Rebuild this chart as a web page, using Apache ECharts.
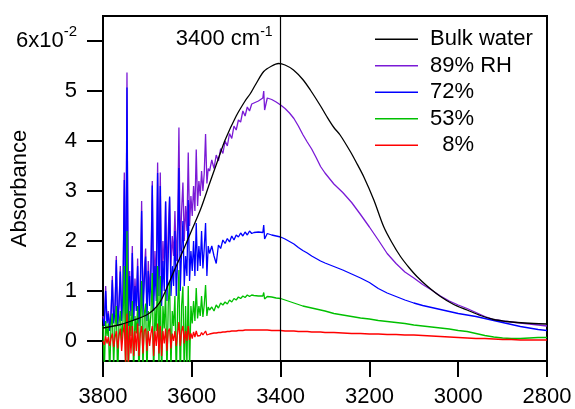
<!DOCTYPE html>
<html><head><meta charset="utf-8">
<script src="https://cdn.jsdelivr.net/npm/echarts@6/dist/echarts.min.js"></script>
<style>html,body{margin:0;padding:0;background:#fff}#c{width:575px;height:409px}</style>
</head><body><div id="c"></div>
<script>
// Absorbance values are in units of 10^-2 (axis shows 6x10^-2 at top)
const xTicks = [3800, 3600, 3400, 3200, 3000, 2800];
const yTicks = [0, 1, 2, 3, 4, 5, 6];
const legendNames = ['Bulk water', '89% RH', '72%', '53%', '  8%'];

// noisy region wavenumbers (cm-1)
const wnA = [3800,3797,3794,3791,3788,3785,3782,3779,3776,3773,
3770,3767,3764,3761,3758,3755,3752,3749,3746,3743,
3740,3737,3734,3731,3728,3725,3722,3719,3716,3713,
3710,3707,3704,3701,3698,3695,3692,3689,3686,3683,
3680,3677,3674,3671,3668,3665,3662,3659,3656,3653,
3650,3647,3644,3641,3638,3635,3632,3629,3626,3623,
3620,3617,3614,3611,3608,3605,3602,3599,3596,3593,
3590,3587,3584,3581,3578,3575,3572,3569,3566,3563,
3560];
// smoother region wavenumbers
const wnB = [3555,3550,3545,3540,3535,3530,3525,3520,3515,3510,3505,3500,3495,3490,3485,3480,3475,3470,3465,
3460,3450,3440,3438,3436,3430,3420,3410,3400,3390,3380,3370,3360,3350,3340,3330,3320,3310,3300,
3280,3260,3240,3220,3200,3180,3160,3140,3120,3100,3080,3060,3040,3020,3000,2980,2960,2940,2920,2900,2880,2860,2840,2820,2800];

const rh89A = [0.5,0.35,1.1,0.4,0.6,0.3,0.55,1.3,0.4,0.65,
1.7,0.35,0.75,1.5,0.45,1.0,3.37,0.25,5.37,0.35,
1.4,0.6,1.9,0.5,1.25,0.7,1.65,0.45,1.05,2.8,
0.7,1.4,1.85,0.65,1.6,0.95,1.55,3.2,0.9,1.8,
1.1,3.57,1.25,3.37,1.1,2.0,1.45,2.79,1.35,2.2,
2.87,1.5,2.1,1.7,2.6,1.6,2.3,4.27,1.8,2.6,
3.17,2.0,2.7,2.2,3.77,2.3,2.9,2.5,3.1,2.6,
3.83,2.7,3.2,2.9,3.4,3.0,3.35,4.14,3.15,3.45,
3.4];
const rh89B = [3.62,3.45,3.72,3.6,3.85,3.75,4.0,3.9,4.15,4.05,4.3,4.22,4.42,4.38,4.6,4.5,4.68,4.6,4.74,
4.76,4.8,4.86,5.0,4.62,4.86,4.83,4.78,4.72,4.65,4.56,4.45,4.3,4.13,3.98,3.84,3.67,3.49,3.36,
3.14,2.97,2.77,2.53,2.28,2.02,1.75,1.55,1.38,1.26,1.13,1.02,0.9,0.8,0.72,0.65,0.57,0.49,0.43,0.4,0.38,0.36,0.34,0.32,0.30];

const rh72A = [0.45,0.3,1.0,0.35,0.55,0.2,0.5,1.22,0.35,0.6,
1.62,0.3,0.7,1.39,0.4,0.9,3.22,0.2,5.07,0.3,
1.3,0.5,1.76,0.4,1.1,0.6,1.5,0.3,0.9,2.6,
0.5,1.2,1.69,0.4,1.4,0.7,1.3,3.11,0.6,1.5,
0.8,3.36,0.9,3.1,0.7,1.6,1.0,2.79,0.8,1.7,
2.89,0.9,1.5,1.1,2.2,0.9,1.6,3.46,1.0,1.8,
2.4,1.1,1.7,1.3,2.82,1.2,1.8,1.4,2.0,1.3,
2.36,1.4,1.9,1.5,2.2,1.45,1.85,2.36,1.3,1.9,
1.75];
const rh72B = [1.9,1.7,1.55,1.92,1.85,2.02,1.95,2.05,1.98,2.1,2.02,2.12,2.08,2.16,2.1,2.18,2.12,2.2,2.15,
2.17,2.18,2.17,2.32,2.04,2.15,2.12,2.1,2.08,2.04,1.99,1.94,1.87,1.81,1.76,1.7,1.65,1.6,1.56,
1.49,1.42,1.34,1.26,1.17,1.05,0.96,0.89,0.82,0.76,0.71,0.67,0.63,0.59,0.55,0.52,0.49,0.45,0.41,0.37,0.33,0.29,0.26,0.23,0.21];

const rh53A = [0.3,-0.6,0.4,0.1,0.35,-0.7,0.3,0.55,-0.5,0.3,
0.7,-0.8,0.35,0.6,0.0,0.4,1.5,-0.8,2.2,-0.9,
0.6,0.1,0.8,-0.7,0.5,0.15,0.7,-0.8,0.4,1.2,
-0.6,0.55,0.75,-0.7,0.6,0.2,0.55,1.36,-0.8,0.65,
0.2,1.5,-0.5,1.3,-0.8,0.7,0.25,1.0,-0.7,0.75,
1.2,-0.6,0.6,0.3,0.9,-0.8,0.65,1.42,-0.9,0.7,
1.09,-0.7,0.7,-0.5,1.1,-0.6,0.7,0.35,0.8,0.4,
1.06,0.45,0.7,0.5,0.9,0.48,0.72,1.12,0.5,0.68,
0.62];
const rh53B = [0.68,0.6,0.72,0.66,0.76,0.72,0.78,0.74,0.82,0.78,0.85,0.82,0.88,0.85,0.9,0.87,0.92,0.89,0.92,
0.91,0.9,0.9,0.97,0.84,0.89,0.88,0.86,0.85,0.82,0.79,0.76,0.73,0.7,0.68,0.66,0.64,0.62,0.6,
0.55,0.52,0.49,0.46,0.44,0.41,0.39,0.37,0.35,0.32,0.3,0.28,0.26,0.24,0.21,0.19,0.15,0.11,0.08,0.06,0.05,0.05,0.06,0.07,0.07];

const rh8A = [0.0,-0.08,0.1,-0.05,0.08,-0.1,0.05,0.15,-0.12,0.06,
0.2,-0.15,0.1,0.25,-0.2,0.15,0.35,-0.45,0.55,-0.5,
0.3,-0.25,0.3,-0.3,0.2,-0.2,0.35,-0.3,0.15,0.3,
-0.25,0.2,0.25,-0.2,0.2,-0.1,0.15,0.3,-0.3,0.2,
-0.1,0.35,-0.25,0.3,-0.3,0.2,-0.05,0.25,-0.2,0.2,
0.25,-0.15,0.15,0.0,0.2,-0.1,0.15,0.38,-0.1,0.2,
0.3,-0.05,0.2,0.0,0.3,0.02,0.15,0.05,0.18,0.08,
0.2,0.1,0.14,0.11,0.17,0.12,0.14,0.2,0.12,0.14,
0.14];
const rh8B = [0.15,0.16,0.16,0.17,0.17,0.18,0.18,0.19,0.19,0.2,0.2,0.2,0.21,0.21,0.21,0.22,0.22,0.22,0.22,
0.22,0.22,0.22,0.23,0.21,0.22,0.21,0.21,0.21,0.2,0.2,0.2,0.19,0.19,0.19,0.18,0.18,0.18,0.17,
0.17,0.16,0.15,0.15,0.14,0.14,0.13,0.13,0.12,0.12,0.11,0.1,0.09,0.08,0.07,0.06,0.05,0.05,0.04,0.03,0.03,0.02,0.02,0.02,0.02];

const wnBulk = [3800,3760,3730,3700,3680,3667,3640,3620,3600,3580,3560,3540,3525,3500,3480,3468,3457,3438,3420,3405,
3390,3371,3350,3333,3310,3296,3280,3266,3243,3230,3213,3190,3168,3150,3130,3110,3093,3070,3040,3010,2980,2950,2920,2890,2867,2830,2800];
const bulk = [0.26,0.33,0.42,0.53,0.68,0.85,1.4,1.8,2.22,2.64,3.15,3.65,4.02,4.5,4.8,4.95,5.12,5.39,5.5,5.55,
5.52,5.42,5.23,5.02,4.7,4.49,4.27,4.12,3.79,3.58,3.29,2.82,2.29,1.98,1.69,1.46,1.29,1.1,0.89,0.73,0.62,0.51,0.43,0.39,0.37,0.35,0.34];

const colors = {bulk:'#000000', rh89:'#7a1ad6', rh72:'#0000ff', rh53:'#00c000', rh8:'#ff0000'};
const FONT = '"Liberation Sans", Arial, Helvetica, sans-serif';
const FS = 22;

function pairs(xs, ys) { return xs.map((x, i) => [x, ys[i]]); }
const wnAll = wnA.concat(wnB);

function lineSeries(name, color, data, extra) {
  return Object.assign({
    type: 'line', name: name, data: data, symbol: 'none', showSymbol: false,
    lineStyle: { color: color, width: 1.3 }, itemStyle: { color: color },
    emphasis: { disabled: true }, animation: false
  }, extra || {});
}

const chart = echarts.init(document.getElementById('c'), null, { renderer: 'canvas' });
chart.setOption({
  backgroundColor: '#fff',
  animation: false,
  textStyle: { fontFamily: FONT },
  grid: { left: 103, right: 28, top: 16, bottom: 48, containLabel: false, outerBoundsMode: 'none',
          show: true, borderColor: '#000', borderWidth: 2, backgroundColor: 'transparent' },
  legend: {
    data: legendNames, orient: 'vertical', left: 375, top: 26, padding: 0,
    icon: 'rect', itemWidth: 43, itemHeight: 1.5, itemGap: 0, selectedMode: false,
    textStyle: { fontFamily: FONT, fontSize: FS, color: '#000', lineHeight: 26.5, padding: [0, 0, 0, 7] }
  },
  xAxis: {
    type: 'value', inverse: true, min: 2800, max: 3800, interval: 200,
    axisLine: { show: true, onZero: false, lineStyle: { color: '#000', width: 2 } },
    axisTick: { show: true, inside: false, length: 16, lineStyle: { color: '#000', width: 2 } },
    axisLabel: { margin: 25, fontSize: FS, color: '#000', fontFamily: FONT, customValues: xTicks,
                 formatter: function (v) { return String(v); } },
    splitLine: { show: false }
  },
  yAxis: {
    type: 'value', min: -0.4, max: 6.5,
    name: 'Absorbance', nameLocation: 'middle', nameGap: 72, nameRotate: 90, nameMoveOverlap: false,
    nameTextStyle: { fontSize: FS, color: '#000', fontFamily: FONT },
    axisLine: { show: true, onZero: false, lineStyle: { color: '#000', width: 2 } },
    axisTick: { show: true, inside: false, length: 16, customValues: yTicks, lineStyle: { color: '#000', width: 2 } },
    axisLabel: {
      margin: 26, color: '#000', customValues: yTicks,
      formatter: function (v) { return v === 6 ? '{m|6x10}{s|-2}' : '{m|' + v + '}'; },
      rich: {
        m: { fontSize: FS, lineHeight: 33, fontFamily: FONT, color: '#000' },
        s: { fontSize: 15, verticalAlign: 'top', fontFamily: FONT, color: '#000' }
      }
    },
    splitLine: { show: false }
  },
  series: [
    lineSeries('89% RH', colors.rh89, pairs(wnAll, rh89A.concat(rh89B))),
    lineSeries('72%', colors.rh72, pairs(wnAll, rh72A.concat(rh72B))),
    lineSeries('53%', colors.rh53, pairs(wnAll, rh53A.concat(rh53B))),
    lineSeries('  8%', colors.rh8, pairs(wnAll, rh8A.concat(rh8B))),
    lineSeries('Bulk water', colors.bulk, pairs(wnBulk, bulk), {
      smooth: 0.3,
      markLine: {
        silent: true, symbol: ['none', 'none'], label: { show: false },
        lineStyle: { color: '#000', width: 1.2, type: 'solid' },
        emphasis: { disabled: true },
        data: [{ xAxis: 3400 }]
      },
      markPoint: {
        silent: true, symbol: 'circle', symbolSize: 0,
        label: {
          show: true, position: 'left', distance: 8, color: '#000',
          formatter: '{a|3400 cm}{b|-1}',
          rich: {
            a: { fontSize: FS, lineHeight: 27, fontFamily: FONT, color: '#000' },
            b: { fontSize: 14, verticalAlign: 'top', fontFamily: FONT, color: '#000' }
          }
        },
        data: [{ coord: [3400, 6.04] }]
      }
    })
  ]
});
</script></body></html>
